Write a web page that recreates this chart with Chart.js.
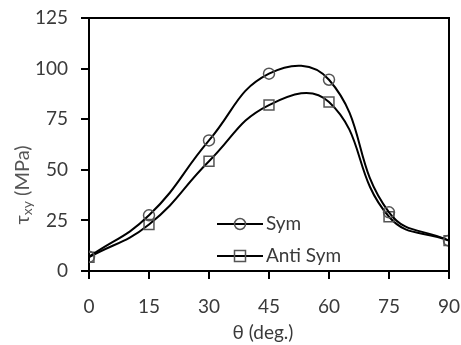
<!DOCTYPE html>
<html>
<head>
<meta charset="utf-8">
<script src="https://cdn.jsdelivr.net/npm/chart.js@4/dist/chart.umd.min.js"></script>
<style>
html,body{margin:0;padding:0;background:#fff;}
#wrap{position:relative;width:461px;height:345px;}
</style>
</head>
<body>
<div id="wrap"><canvas id="c" width="461" height="345"></canvas></div>
<script>
const angles = [0, 15, 30, 45, 60, 75, 90];
const symValues = [7, 27.5, 64.5, 97.5, 94.5, 29, 15];
const antiSymValues = [6.8, 23, 54.2, 82, 83.5, 26.8, 15];
const seriesLabels = ['Sym', 'Anti Sym'];
const xTicks = [0, 15, 30, 45, 60, 75, 90];
const yTicks = [0, 25, 50, 75, 100, 125];
const xTitle = 'θ (deg.)';
const yTitleMain = 'τ';
const yTitleSub = 'xy';
const yTitleRest = ' (MPa)';

const FONT = 'Lato, "Open Sans", sans-serif';
const TEXT = '#3a3a3a';

const toXY = (vals) => angles.map((a, i) => ({x: a, y: vals[i]}));

const decorPlugin = {
  id: 'decor',
  afterDraw(chart) {
    const ctx = chart.ctx;
    const a = chart.chartArea;
    ctx.save();
    ctx.strokeStyle = '#000';
    ctx.lineWidth = 2;
    ctx.beginPath();
    ctx.moveTo(a.left, a.top);
    ctx.lineTo(a.right, a.top);
    ctx.lineTo(a.right, a.bottom);
    ctx.stroke();

    const items = chart.data.datasets;
    const lx0 = 217, lx1 = 263, tx = 266;
    const ly = [224, 256];
    items.forEach((ds, i) => {
      ctx.strokeStyle = '#000';
      ctx.lineWidth = 2;
      ctx.beginPath();
      ctx.moveTo(lx0, ly[i]);
      ctx.lineTo(lx1, ly[i]);
      ctx.stroke();
      ctx.strokeStyle = ds.pointBorderColor;
      ctx.lineWidth = 1.5;
      const cx = (lx0 + lx1) / 2;
      ctx.beginPath();
      if (ds.pointStyle === 'rect') {
        ctx.rect(cx - 5.5, ly[i] - 5.5, 11, 11);
      } else {
        ctx.arc(cx, ly[i], 5.5, 0, Math.PI * 2);
      }
      ctx.stroke();
      ctx.fillStyle = TEXT;
      ctx.font = '19px ' + FONT;
      ctx.textAlign = 'left';
      ctx.textBaseline = 'middle';
      ctx.fillText(ds.label, tx, ly[i]);
    });

    ctx.fillStyle = TEXT;
    ctx.font = '19px ' + FONT;
    ctx.textAlign = 'center';
    ctx.textBaseline = 'middle';
    ctx.fillText(xTitle, 263, 333);

    ctx.translate(22, 185);
    ctx.rotate(-Math.PI / 2);
    ctx.fillStyle = '#555';
    ctx.textBaseline = 'alphabetic';
    ctx.textAlign = 'left';
    const fMain = '20px ' + FONT, fSub = '14px ' + FONT;
    ctx.font = fMain;
    const w1 = ctx.measureText(yTitleMain).width;
    const w3 = ctx.measureText(yTitleRest).width;
    ctx.font = fSub;
    const w2 = ctx.measureText(yTitleSub).width;
    const total = w1 + w2 + w3;
    let x = -total / 2;
    const base = 7;
    ctx.font = fMain;
    ctx.fillText(yTitleMain, x, base); x += w1;
    ctx.font = fSub;
    ctx.fillText(yTitleSub, x, base + 3); x += w2;
    ctx.font = fMain;
    ctx.fillText(yTitleRest, x, base);
    ctx.restore();
  }
};

new Chart(document.getElementById('c'), {
  type: 'line',
  data: {
    datasets: [
      {
        label: seriesLabels[0],
        data: toXY(symValues),
        borderColor: '#000',
        borderWidth: 2,
        tension: 0.45,
        pointStyle: 'circle',
        pointRadius: 5.5,
        pointBorderWidth: 1.5,
        pointBorderColor: '#555',
        pointBackgroundColor: 'rgba(0,0,0,0)',
        pointHoverRadius: 5.5
      },
      {
        label: seriesLabels[1],
        data: toXY(antiSymValues),
        borderColor: '#000',
        borderWidth: 2,
        tension: 0.45,
        pointStyle: 'rect',
        pointRadius: 7,
        pointBorderWidth: 1.5,
        pointBorderColor: '#555',
        pointBackgroundColor: 'rgba(0,0,0,0)',
        pointHoverRadius: 7
      }
    ]
  },
  options: {
    responsive: false,
    animation: false,
    events: [],
    layout: {padding: {left: 0, right: 12, top: 18, bottom: 0}},
    plugins: {legend: {display: false}, tooltip: {enabled: false}},
    scales: {
      x: {
        type: 'linear',
        min: 0, max: 90,
        afterBuildTicks: (s) => { s.ticks = xTicks.map(v => ({value: v})); },
        afterFit: (s) => { s.height = 74; s.paddingLeft = 0; s.paddingRight = 0; },
        border: {display: true, color: '#000', width: 2},
        grid: {drawOnChartArea: false, drawTicks: true, tickLength: 8, color: '#000', lineWidth: 2},
        ticks: {font: {family: FONT, size: 19}, color: TEXT, padding: 16, maxRotation: 0}
      },
      y: {
        type: 'linear',
        min: 0, max: 125,
        afterBuildTicks: (s) => { s.ticks = yTicks.map(v => ({value: v})); },
        afterFit: (s) => { s.width = 89; s.paddingTop = 0; s.paddingBottom = 0; },
        border: {display: true, color: '#000', width: 2},
        grid: {drawOnChartArea: false, drawTicks: true, tickLength: 8, color: '#000', lineWidth: 2},
        ticks: {font: {family: FONT, size: 19}, color: TEXT, padding: 13}
      }
    }
  },
  plugins: [decorPlugin]
});
</script>
</body>
</html>
